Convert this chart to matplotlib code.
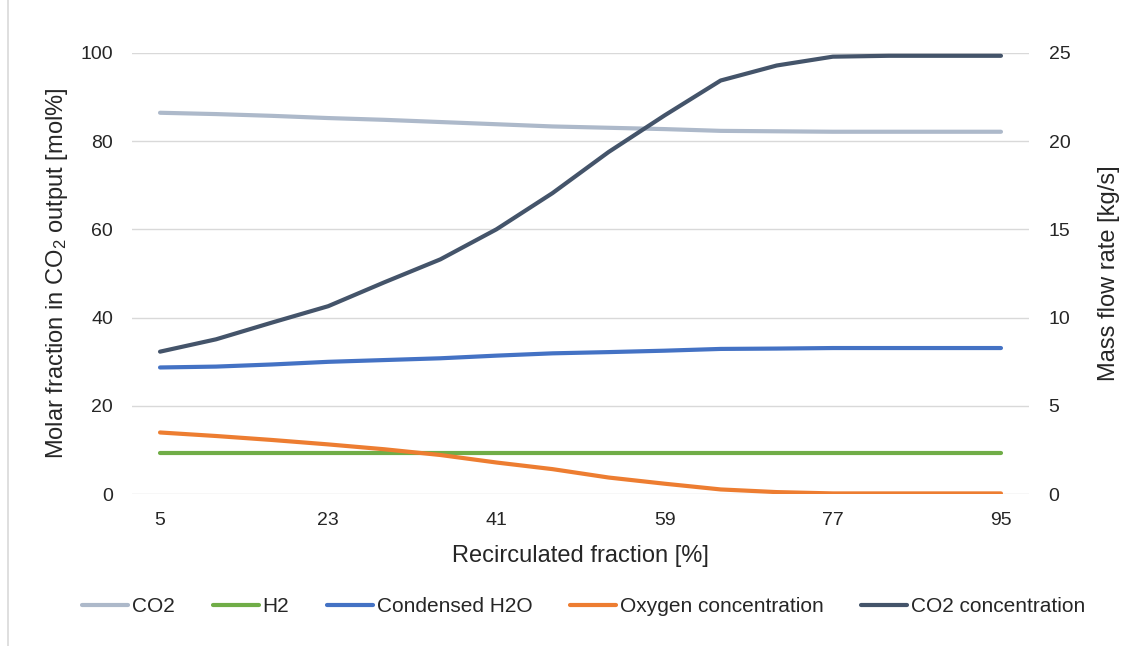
import matplotlib.pyplot as plt
from matplotlib.lines import Line2D

plt.rcParams['font.family'] = ['Liberation Sans', 'DejaVu Sans']
plt.rcParams['mathtext.fontset'] = 'custom'
plt.rcParams['mathtext.rm'] = 'Liberation Sans'
plt.rcParams['mathtext.default'] = 'regular'

# recirculated fraction [%]
recirc = [5, 11, 17, 23, 29, 35, 41, 47, 53, 59, 65, 71, 77, 83, 89, 95]
x_ticks = [5, 23, 41, 59, 77, 95]

# molar fractions [mol%] (left axis)
co2 = [86.4, 86.1, 85.7, 85.2, 84.8, 84.3, 83.8, 83.3, 83.0, 82.7, 82.3, 82.2, 82.1, 82.1, 82.1, 82.1]
oxygen = [14.0, 13.2, 12.3, 11.3, 10.2, 8.9, 7.2, 5.7, 3.8, 2.4, 1.1, 0.5, 0.2, 0.2, 0.2, 0.2]
co2_conc = [32.3, 35.1, 38.9, 42.6, 48.0, 53.2, 60.0, 68.2, 77.5, 85.8, 93.7, 97.1, 99.1, 99.3, 99.3, 99.3]

# mass flow rates [kg/s] (right axis)
h2 = [2.33] * 16
h2o = [7.18, 7.23, 7.35, 7.50, 7.60, 7.70, 7.85, 7.98, 8.05, 8.13, 8.23, 8.25, 8.28, 8.28, 8.28, 8.28]

c_co2 = '#ADB9CA'
c_h2 = '#70AD47'
c_h2o = '#4472C4'
c_o2 = '#ED7D31'
c_conc = '#44546A'
txt = '#262626'

fig = plt.figure(figsize=(11.31, 6.46), dpi=100)
ax = fig.add_axes([132 / 1131, 151.7 / 646, 897 / 1131, 441.6 / 646])
ax2 = ax.twinx()

# left axis drawn on top of right axis, grid from the right one
ax.set_zorder(ax2.get_zorder() + 1)
ax.patch.set_visible(False)

lw = 3
ax2.plot(recirc, h2, color=c_h2, lw=lw, solid_capstyle='round')
ax2.plot(recirc, h2o, color=c_h2o, lw=lw, solid_capstyle='round')
ax.plot(recirc, co2, color=c_co2, lw=lw, solid_capstyle='round')
ax.plot(recirc, oxygen, color=c_o2, lw=lw, solid_capstyle='round')
ax.plot(recirc, co2_conc, color=c_conc, lw=lw, solid_capstyle='round')

ax.set_xlim(2, 98)
ax.set_ylim(0, 100)
ax2.set_ylim(0, 25)
ax.set_xticks(x_ticks)
ax.set_yticks(range(0, 101, 20))
ax2.set_yticks(range(0, 26, 5))

ax2.grid(axis='y', color='#D9D9D9', lw=1)
for a in (ax, ax2):
    for s in a.spines.values():
        s.set_visible(False)
ax.tick_params(axis='both', length=0, labelsize=14, labelcolor=txt)
ax.tick_params(axis='y', pad=13.7)
ax.tick_params(axis='x', pad=13)
ax2.tick_params(axis='y', length=0, labelsize=14, labelcolor=txt, pad=14.2)

ax.set_ylabel('Molar fraction in CO$_2$ output [mol%]', fontsize=17, color=txt)
ax.yaxis.set_label_coords(-0.069, 0.5)
ax2.set_ylabel('Mass flow rate [kg/s]', fontsize=17, color=txt)
ax2.yaxis.set_label_coords(1.077, 0.5)
ax.set_xlabel('Recirculated fraction [%]', fontsize=17, color=txt)
ax.xaxis.set_label_coords(0.5, -0.114)

handles = [Line2D([], [], color=c, lw=lw, solid_capstyle='round')
           for c in (c_co2, c_h2, c_h2o, c_o2, c_conc)]
names = ['CO2', 'H2', 'Condensed H2O', 'Oxygen concentration', 'CO2 concentration']
fig.legend(handles, names, loc='center', bbox_to_anchor=(584 / 1131, 1 - 607 / 646),
           ncol=5, frameon=False, fontsize=15, handlelength=2.2, handletextpad=0.2,
           columnspacing=1.8, labelcolor=txt)

# light frame edge on the left
fig.add_artist(Line2D([7.5 / 1131, 7.5 / 1131], [0, 1], color='#D9D9D9', lw=1.2,
                      transform=fig.transFigure))

fig.savefig('out.png', dpi=100)
